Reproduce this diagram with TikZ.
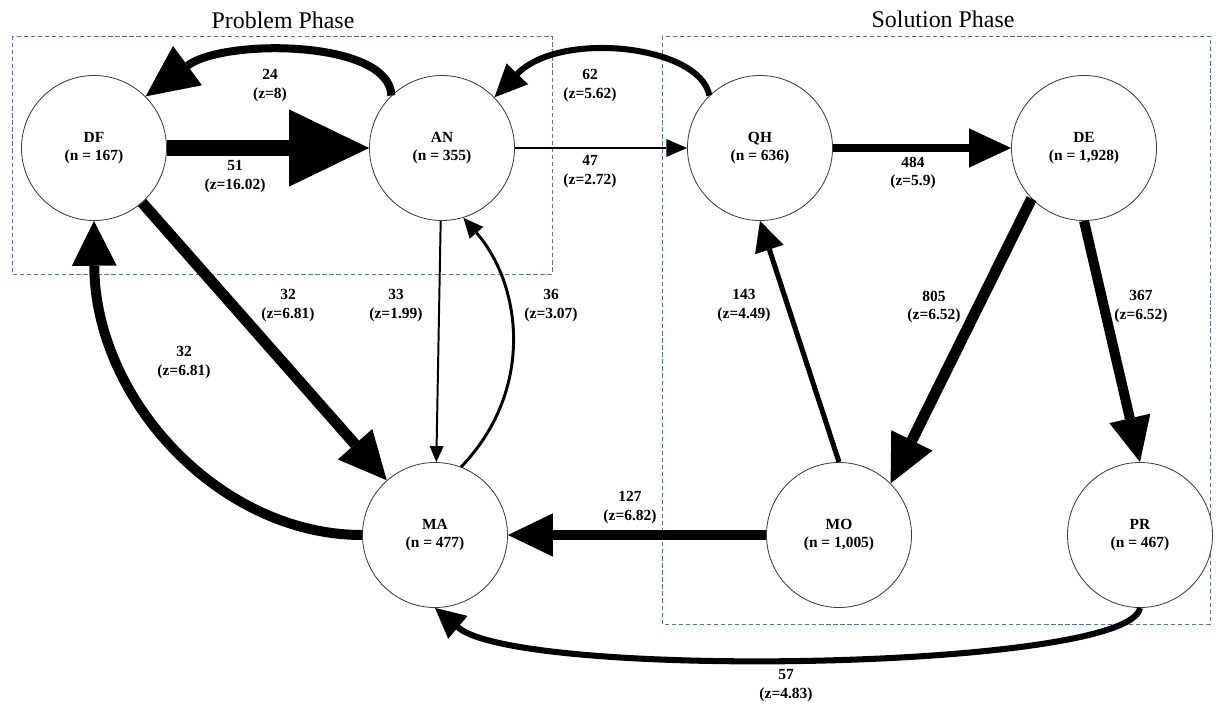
\documentclass[tikz,border=0pt]{standalone}
\usepackage{fontspec}
\setmainfont{Liberation Serif}
\usetikzlibrary{arrows.meta}
\definecolor{phaseblue}{RGB}{68,114,196}

\begin{document}
\begin{tikzpicture}[
        x=0.025cm, y=-0.025cm,
        state/.style={circle, draw=black!75, fill=white, line width=0.6pt, minimum size=3.625cm, inner sep=0pt, align=center, font=\bfseries\fontsize{11}{13}\selectfont},
        elabel/.style={align=center, font=\bfseries\fontsize{11}{13.5}\selectfont},
        phase/.style={draw=phaseblue, line width=0.6pt, dash pattern=on 3pt off 2pt},
        phasename/.style={font=\fontsize{17}{20}\selectfont},
        flow/.style n args={3}{line width=#1, -{Triangle[length=#2, width=#3, line width=0pt]}}
        ]
        \useasboundingbox (0,0) rectangle (1220,708);

        % phases
        \draw[phase] (12,36) rectangle (552,274);
        \draw[phase] (662,36) rectangle (1210,624);
        \node[phasename] (prob) at (283,20) {Problem Phase};
        \node[phasename] (sol) at (943,19) {Solution Phase};

        % states
        \node[state] (DF) at (94,148) {DF\\(n = 167)};
        \node[state] (AN) at (442,148) {AN\\(n = 355)};
        \node[state] (QH) at (760,148) {QH\\(n = 636)};
        \node[state] (DE) at (1084,148) {DE\\(n = 1,928)};
        \node[state] (MA) at (435,535) {MA\\(n = 477)};
        \node[state] (MO) at (839,535) {MO\\(n = 1,005)};
        \node[state] (PR) at (1140,535) {PR\\(n = 467)};

        % transitions
        \draw[flow={10.7pt}{2cm}{1.93cm}] (DF) -- (AN);
        \draw[flow={5.7pt}{1.3cm}{1.22cm}] (AN.134) .. controls (390,40) and (225,38) .. (DF.45);
        \draw[flow={1.8pt}{0.52cm}{0.45cm}] (AN) -- (QH);
        \draw[flow={4.3pt}{0.82cm}{0.75cm}] (QH.134) .. controls (700,45) and (560,30) .. (AN.44);
        \draw[flow={5.7pt}{1.05cm}{0.98cm}] (QH) -- (DE);
        \draw[flow={7.8pt}{1.2cm}{1.15cm}] (DE.-136) -- (MO.45);
        \draw[flow={7.1pt}{1.12cm}{1.05cm}] (DE.south) -- (PR.north);
        \draw[flow={7.8pt}{1.2cm}{1.15cm}] (DF) -- (MA);
        \draw[flow={1.4pt}{0.4cm}{0.35cm}] (AN) -- (MA);
        \draw[flow={2.1pt}{0.5cm}{0.45cm}] (MA.69) .. controls (535,390) and (522,285) .. (AN.-73);
        \draw[flow={7.1pt}{1.12cm}{1.12cm}] (MA.west) .. controls (220,535) and (95,400) .. (DF.south);
        \draw[flow={3.6pt}{0.75cm}{0.75cm}] (MO.north) -- (QH.south);
        \draw[flow={7.1pt}{1.12cm}{1.08cm}] (MO) -- (MA);
        \draw[flow={4.3pt}{0.75cm}{0.75cm}] (PR.south) .. controls (1130,670) and (520,680) .. (MA.south);

        % counts
        \node[elabel] (l51) at (235,177) {51\\(z=16.02)};
        \node[elabel] (l24) at (270,86) {24\\(z=8)};
        \node[elabel] (l47) at (590,172) {47\\(z=2.72)};
        \node[elabel] (l62) at (590,86) {62\\(z=5.62)};
        \node[elabel] (l484) at (913,173) {484\\(z=5.9)};
        \node[elabel] (l32a) at (288,306) {32\\(z=6.81)};
        \node[elabel] (l33) at (396,306) {33\\(z=1.99)};
        \node[elabel] (l36) at (551,306) {36\\(z=3.07)};
        \node[elabel] (l32b) at (184,363) {32\\(z=6.81)};
        \node[elabel] (l143) at (744,306) {143\\(z=4.49)};
        \node[elabel] (l805) at (934,307) {805\\(z=6.52)};
        \node[elabel] (l367) at (1141,307) {367\\(z=6.52)};
        \node[elabel] (l127) at (630,508) {127\\(z=6.82)};
        \node[elabel] (l57) at (786,686) {57\\(z=4.83)};
    \end{tikzpicture}
\end{document}
